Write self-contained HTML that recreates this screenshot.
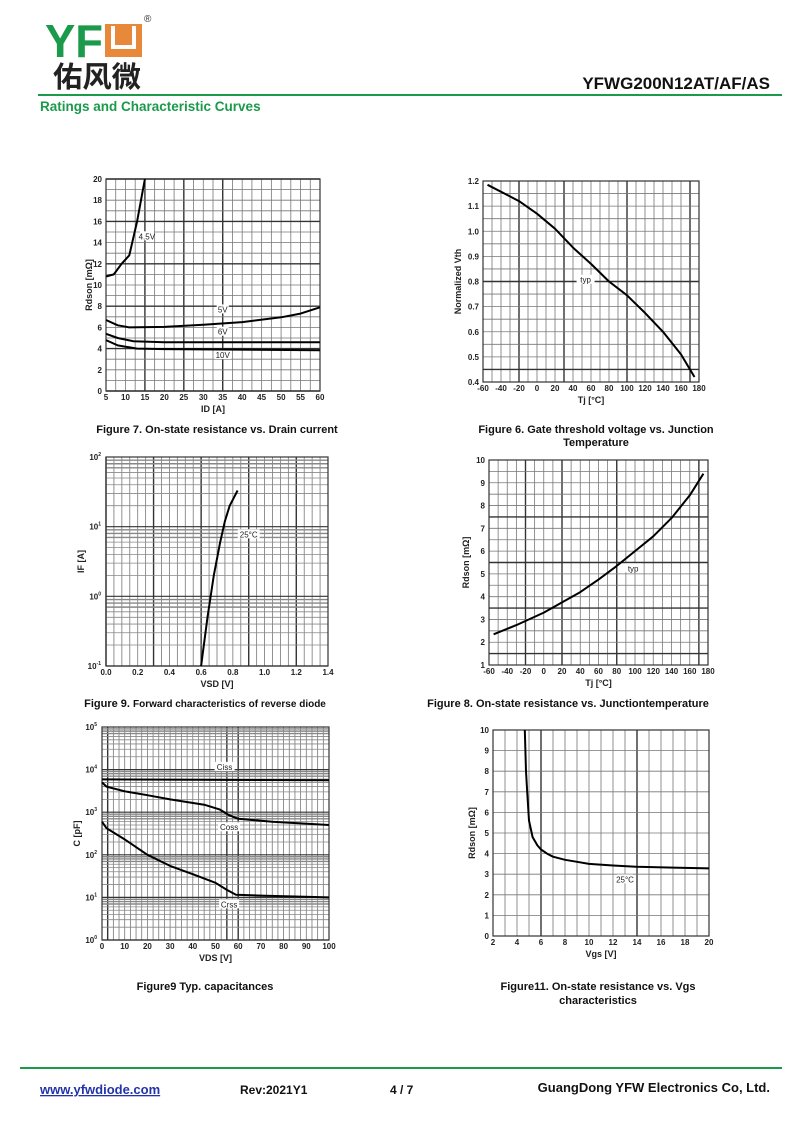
<!DOCTYPE html>
<html><head><meta charset="utf-8"><style>
html,body{margin:0;padding:0;background:#fff;}
svg{display:block;font-family:"Liberation Sans",Arial,sans-serif;}
</style></head><body>
<svg id="s" xmlns="http://www.w3.org/2000/svg" width="800" height="1130" viewBox="0 0 800 1130">
<rect width="800" height="1130" fill="#fff"/>
<text x="45" y="57" font-size="46" font-weight="bold" fill="#1a9a4a" textLength="58" lengthAdjust="spacingAndGlyphs">YF</text>
<rect x="105" y="24" width="37" height="33" fill="#e8883a"/>
<path d="M113 26 V47 H134 V26" fill="none" stroke="#fff" stroke-width="4"/>
<text x="144" y="22" font-size="10" fill="#333">®</text>
<text x="53" y="87" font-size="29" font-weight="bold" fill="#222" font-family="'Noto Sans CJK SC','WenQuanYi Zen Hei',sans-serif" textLength="88" lengthAdjust="spacingAndGlyphs">佑风微</text>
<text x="770" y="89" font-size="17" font-weight="bold" fill="#111" text-anchor="end">YFWG200N12AT/AF/AS</text>
<rect x="38" y="94" width="744" height="2" fill="#1a9a4a"/>
<text x="40" y="111" font-size="13.5" font-weight="bold" fill="#1a9a4a">Ratings and Characteristic Curves</text>
<rect x="20" y="1067" width="762" height="2" fill="#1a9a4a"/>
<text x="40" y="1094" font-size="13" font-weight="bold" fill="#2233aa" text-decoration="underline">www.yfwdiode.com</text>
<text x="240" y="1094" font-size="12" font-weight="bold" fill="#111">Rev:2021Y1</text>
<text x="390" y="1094" font-size="12" font-weight="bold" fill="#111">4 / 7</text>
<text x="770" y="1092" font-size="13" font-weight="bold" fill="#111" text-anchor="end">GuangDong YFW Electronics Co, Ltd.</text>
<g font-size="11" font-weight="bold" fill="#111" text-anchor="middle">
<text x="217" y="433">Figure 7. On-state resistance vs. Drain current</text>
<text x="596" y="433">Figure 6. Gate threshold voltage vs. Junction</text>
<text x="596" y="446">Temperature</text>
<text x="205" y="707">Figure 9. <tspan font-size="10">Forward characteristics of reverse diode</tspan></text>
<text x="568" y="707">Figure 8. On-state resistance vs. Junctiontemperature</text>
<text x="205" y="990">Figure9 Typ. capacitances</text>
<text x="598" y="990">Figure11. On-state resistance vs. Vgs</text>
<text x="598" y="1004">characteristics</text>
</g>
<g id="charts"></g>
</svg>
<script>
var NS="http://www.w3.org/2000/svg",G=document.getElementById('charts');
function el(t,a,txt){var e=document.createElementNS(NS,t);for(var k in a)e.setAttribute(k,a[k]);if(txt!=null)e.textContent=txt;G.appendChild(e);return e;}
function chart(c){
 var X=function(v){return c.x0+(v-c.xa)/(c.xb-c.xa)*(c.x1-c.x0);};
 var Y=c.log?function(v){return c.y1-(Math.log10(v)-c.ya)/(c.yb-c.ya)*(c.y1-c.y0);}:function(v){return c.y1-(v-c.ya)/(c.yb-c.ya)*(c.y1-c.y0);};
 for(var v=c.xa;v<=c.xb+1e-9;v+=c.xs){var d=c.xdark&&c.xdark(v);el('line',{x1:X(v),x2:X(v),y1:c.y0,y2:c.y1,stroke:d?'#333':'#777','stroke-width':d?1.4:0.8});}
 if(c.log){for(var dd=c.ya;dd<c.yb;dd++){for(var m=1;m<10;m++){var yy=Y(m*Math.pow(10,dd));el('line',{x1:c.x0,x2:c.x1,y1:yy,y2:yy,stroke:m==1?'#333':'#888','stroke-width':m==1?1.2:(m>=7?1.4:0.8)});}}}
 else{for(var v=c.ya;v<=c.yb+1e-9;v+=c.ys){var d=c.ydark&&c.ydark(v);el('line',{x1:c.x0,x2:c.x1,y1:Y(v),y2:Y(v),stroke:d?'#333':'#777','stroke-width':d?1.4:0.8});}}
 el('rect',{x:c.x0,y:c.y0,width:c.x1-c.x0,height:c.y1-c.y0,fill:'none',stroke:'#333','stroke-width':1.2});
 c.xt.forEach(function(t){el('text',{x:X(t),y:c.y1+9,'font-size':8,'font-weight':'bold','text-anchor':'middle',fill:'#222'},c.xf?c.xf(t):t);});
 if(c.log){for(var dd=c.ya;dd<=c.yb;dd++){var t=el('text',{x:c.x0-5,y:Y(Math.pow(10,dd))+3,'font-size':8,'font-weight':'bold','text-anchor':'end',fill:'#222'},'10');var s=document.createElementNS(NS,'tspan');s.setAttribute('dy','-4');s.setAttribute('font-size','5');s.textContent=dd;t.appendChild(s);}}
 else c.yt.forEach(function(t){el('text',{x:c.x0-4,y:Y(t)+3,'font-size':8,'font-weight':'bold','text-anchor':'end',fill:'#222'},c.yf?c.yf(t):t);});
 el('text',{x:(c.x0+c.x1)/2,y:c.y1+21,'font-size':9,'font-weight':'bold','text-anchor':'middle',fill:'#222'},c.xl);
 el('text',{x:0,y:0,'font-size':9,'font-weight':'bold','text-anchor':'middle',fill:'#222',transform:'translate('+(c.x0-c.ylo)+','+((c.y0+c.y1)/2)+') rotate(-90)'},c.yl);
 (c.labels||[]).forEach(function(l){var tx=X(l[0]),ty=Y(l[1]);el('rect',{x:tx-l[3],y:ty-6,width:l[3]*2,height:9,fill:'#fff'});el('text',{x:tx,y:ty+2,'font-size':8,'text-anchor':'middle',fill:'#222'},l[2]);});
 c.curves.forEach(function(p){var pts=p.map(function(q){return X(q[0]).toFixed(1)+','+Y(q[1]).toFixed(1);}).join(' ');el('polyline',{points:pts,fill:'none',stroke:'#000','stroke-width':2,'stroke-linejoin':'round'});});
}
function rng(a,b,s){var r=[];for(var v=a;v<=b+1e-9;v+=s)r.push(Math.round(v*100)/100);return r;}
chart({x0:106,x1:320,y0:179,y1:391,xa:5,xb:60,xs:2.5,ya:0,yb:20,ys:1,xdark:function(v){return Math.abs(v-15)<1e-6||Math.abs(v-25)<1e-6||Math.abs(v-35)<1e-6;},ydark:function(v){return v%4==0;},
 xt:rng(5,60,5),yt:rng(0,20,2),xl:'ID [A]',yl:'Rdson [mΩ]',ylo:14,
 curves:[[[5,10.8],[7,11],[9,12],[11,12.8],[13,16],[14,18],[15,20]],
 [[5,6.7],[8,6.2],[11,6],[20,6.05],[30,6.25],[40,6.5],[50,6.95],[55,7.3],[60,7.9]],
 [[5,5.4],[8,5],[12,4.7],[20,4.6],[60,4.6]],
 [[5,4.8],[8,4.3],[13,4],[20,3.95],[60,3.85]]],
 labels:[[15.5,14.5,'4.5V',7],[35,7.6,'5V',6],[35,5.5,'6V',6],[35,3.3,'10V',8]]});
chart({x0:483,x1:699,y0:181,y1:382,xa:-60,xb:180,xs:10,ya:0.4,yb:1.2,ys:0.05,xdark:function(v){return v==-20||v==30||v==100||v==170;},ydark:function(v){return Math.abs(v-0.45)<1e-6||Math.abs(v-0.8)<1e-6;},
 xt:rng(-60,180,20),yt:rng(0.4,1.2,0.1),yf:function(t){return t.toFixed(1);},xl:'Tj [°C]',yl:'Normalized Vth',ylo:22,
 curves:[[[-55,1.185],[-20,1.12],[0,1.07],[20,1.01],[40,0.935],[60,0.87],[80,0.8],[100,0.745],[120,0.675],[140,0.6],[160,0.51],[175,0.42]]],
 labels:[[54,0.803,'typ',9]]});
chart({x0:106,x1:328,y0:457,y1:666,xa:0,xb:1.4,xs:0.05,log:true,ya:-1,yb:2,xf:function(t){return t.toFixed(1);},xdark:function(v){return Math.abs(v/0.3-Math.round(v/0.3))<1e-6;},
 xt:[0,0.2,0.4,0.6,0.8,1.0,1.2,1.4],xl:'VSD [V]',yl:'IF [A]',ylo:22,
 curves:[[[0.6,0.1],[0.64,0.5],[0.68,2],[0.72,6],[0.75,12],[0.78,20],[0.83,33]]],
 labels:[[0.9,7.5,'25°C',11]]});
chart({x0:489,x1:708,y0:460,y1:665,xa:-60,xb:180,xs:10,ya:1,yb:10,ys:0.5,xdark:function(v){return v==-20||v==20||v==80||v==170;},ydark:function(v){return v==1.5||v==3.5||v==5.5||v==7.5;},
 xt:rng(-60,180,20),yt:rng(1,10,1),xl:'Tj [°C]',yl:'Rdson [mΩ]',ylo:20,
 curves:[[[-55,2.35],[-30,2.75],[0,3.3],[20,3.75],[40,4.2],[60,4.75],[80,5.35],[100,6],[120,6.65],[140,7.45],[160,8.45],[175,9.4]]],
 labels:[[98,5.2,'typ',8]]});
chart({x0:102,x1:329,y0:727,y1:940,xa:0,xb:100,xs:2.5,log:true,ya:0,yb:5,xdark:function(v){return v==2.5||v==55||v==60;},
 xt:rng(0,100,10),xl:'VDS [V]',yl:'C [pF]',ylo:22,
 curves:[[[0,5900],[100,5600]],
 [[0,5000],[2,4000],[10,3100],[20,2500],[30,2000],[45,1500],[52,1150],[56,850],[60,700],[75,600],[100,500]],
 [[0,600],[2,420],[10,230],[20,100],[30,55],[40,35],[50,22],[55,15],[59,11.5],[70,11],[100,10]]],
 labels:[[54,11000,'Ciss',10],[56,420,'Coss',11],[56,6.5,'Crss',10]]});
chart({x0:493,x1:709,y0:730,y1:936,xa:2,xb:20,xs:1,ya:0,yb:10,ys:1,xdark:function(v){return v==6||v==14;},
 xt:rng(2,20,2),yt:rng(0,10,1),xl:'Vgs [V]',yl:'Rdson [mΩ]',ylo:18,
 curves:[[[4.65,10],[4.75,8],[4.85,7],[5,5.6],[5.3,4.8],[5.7,4.4],[6,4.2],[6.5,4],[7,3.85],[8,3.7],[9,3.6],[10,3.5],[12,3.42],[14,3.36],[17,3.32],[20,3.28]]],
 labels:[[13,2.7,'25°C',8]]});
</script>
</body></html>
